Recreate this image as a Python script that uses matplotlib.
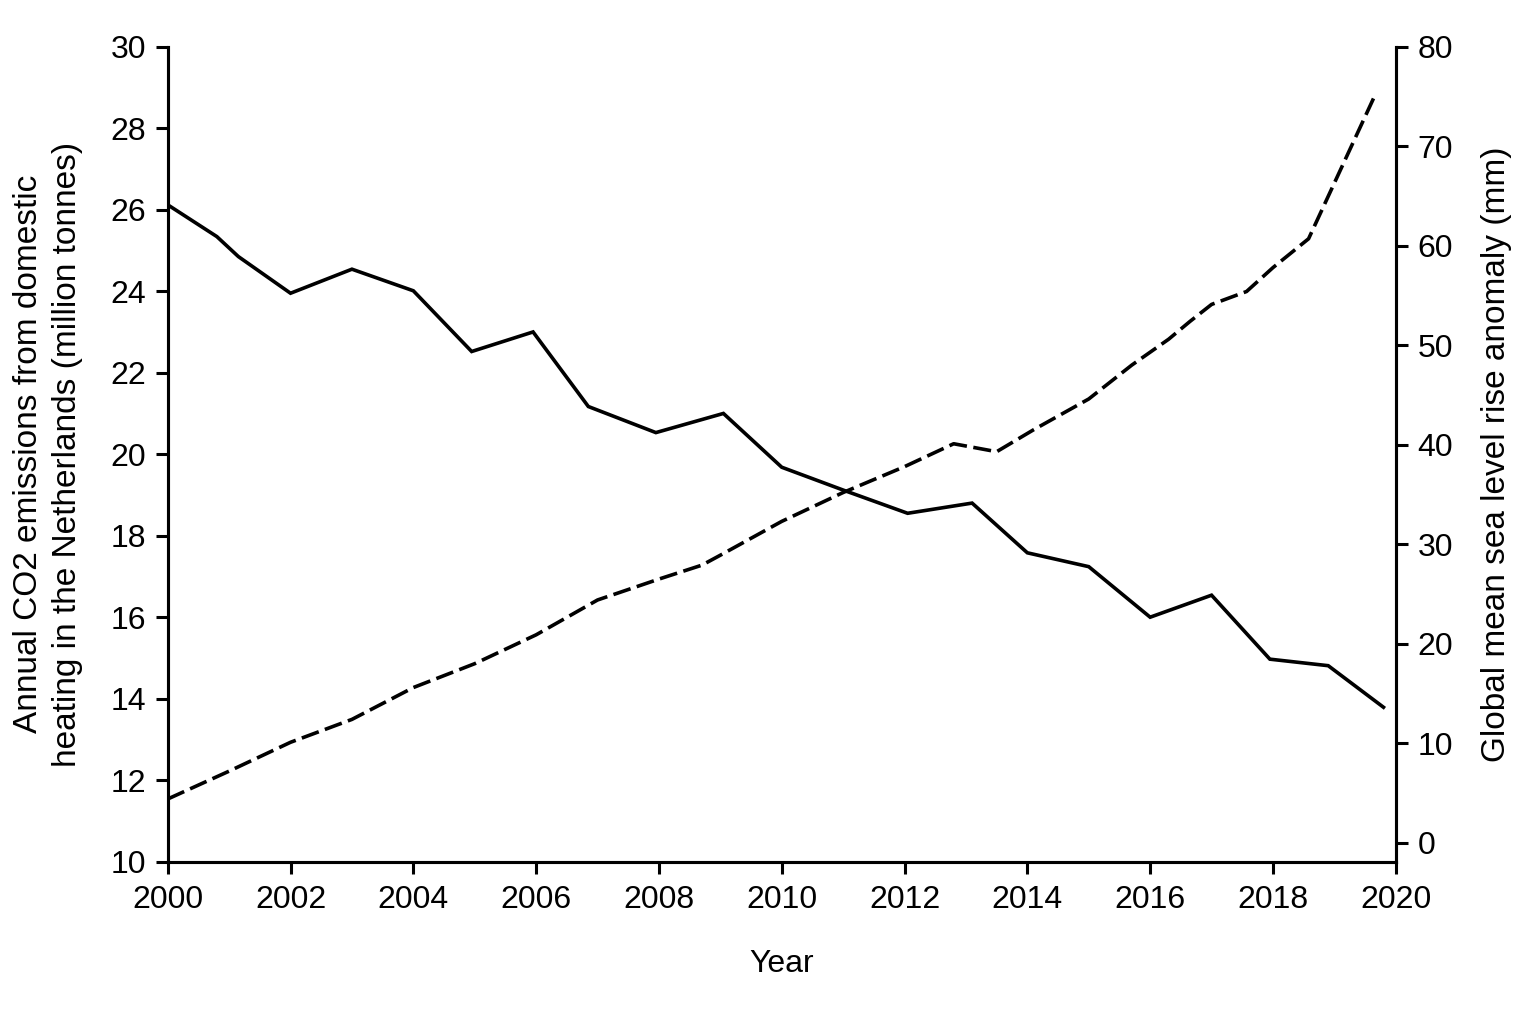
import matplotlib
matplotlib.use("Agg")
import matplotlib.pyplot as plt

plt.rcParams['font.family'] = ['Liberation Sans', 'DejaVu Sans']

# CO2 emissions from domestic heating (million tonnes), left axis
co2_years = [2000, 2000.8, 2001.15, 2002, 2003, 2004, 2004.95, 2005.95, 2006.85,
             2007.95, 2009.05, 2010, 2011, 2012.05, 2013.1, 2014, 2015, 2016,
             2017, 2017.95, 2018.9, 2019.8]
co2 = [26.12, 25.34, 24.85, 23.95, 24.54, 24.01, 22.52, 23.0, 21.17,
       20.53, 21.0, 19.68, 19.12, 18.55, 18.8, 17.58, 17.24, 16.0,
       16.54, 14.97, 14.81, 13.79]

# global mean sea level rise anomaly (mm), right axis
sea_years = [2000, 2001, 2002, 2003, 2004, 2005, 2006, 2007, 2008, 2008.7,
             2009, 2010, 2011, 2012, 2012.8, 2013.5, 2014.1, 2015, 2015.7,
             2016.3, 2016.65, 2017, 2017.57, 2018, 2018.58, 2019.66]
sea = [4.4, 7.2, 10.1, 12.4, 15.6, 18.0, 20.9, 24.4, 26.5, 27.9,
       28.9, 32.3, 35.2, 37.8, 40.1, 39.3, 41.5, 44.6, 48.0,
       50.6, 52.4, 54.1, 55.4, 57.8, 60.7, 75.1]

xticks = list(range(2000, 2021, 2))
left_ticks = list(range(10, 31, 2))
right_ticks = list(range(0, 81, 10))

fig = plt.figure(figsize=(15.36, 10.24), dpi=100)
ax = fig.add_axes([0.1092, 0.1585, 0.7995, 0.7959])
ax2 = ax.twinx()

ax.plot(co2_years, co2, color='black', linewidth=2.6, solid_joinstyle='miter')
ax2.plot(sea_years, sea, color='black', linewidth=2.6, linestyle=(0, (5.0, 1.8)))

ax.set_xlim(2000, 2020)
ax.set_ylim(10, 30)
ax2.set_ylim(-1.9, 80)
ax.set_xticks(xticks)
ax.set_yticks(left_ticks)
ax2.set_yticks(right_ticks)

for a in (ax, ax2):
    a.spines['top'].set_visible(False)
    for s in a.spines.values():
        s.set_linewidth(2.2)
    a.tick_params(length=8.5, width=2.2, labelsize=23, pad=7)
ax.tick_params(axis='x', labelsize=23, pad=8)

ax.set_xlabel('Year', fontsize=23, labelpad=25)
ax.set_ylabel('Annual CO2 emissions from domestic\nheating in the Netherlands (million tonnes)',
              fontsize=24, labelpad=20, linespacing=1.3)
ax2.set_ylabel('Global mean sea level rise anomaly (mm)', fontsize=24, labelpad=20)

fig.savefig('out.png', dpi=100)
